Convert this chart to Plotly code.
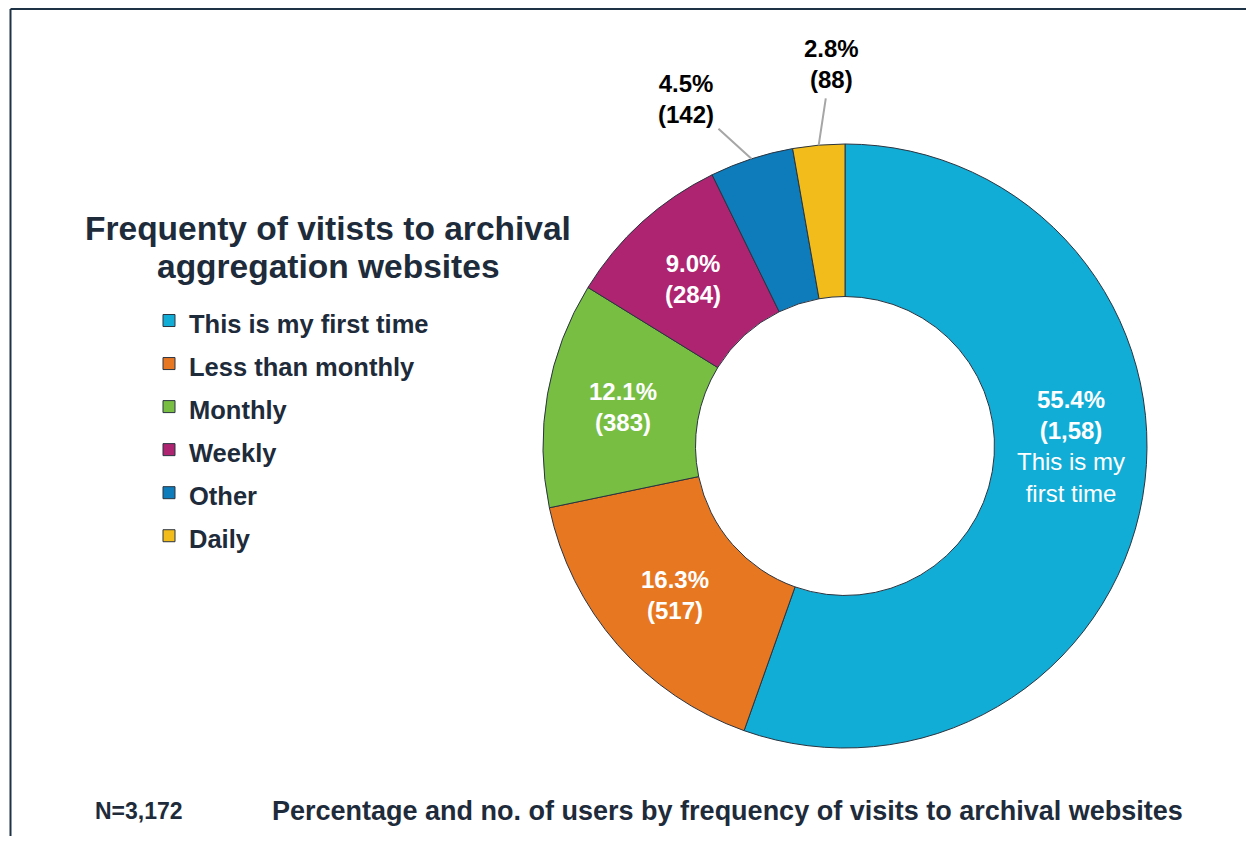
import math
import plotly.graph_objects as go

# ---------------- data ----------------
categories = ["This is my first time", "Less than monthly", "Monthly", "Weekly", "Other", "Daily"]
counts = [1758, 517, 383, 284, 142, 88]
percent_labels = ["55.4%", "16.3%", "12.1%", "9.0%", "4.5%", "2.8%"]
count_labels = ["(1,58)", "(517)", "(383)", "(284)", "(142)", "(88)"]
colors = ["#12ADD6", "#E87722", "#78BE43", "#AE2471", "#0E7BBA", "#F2BD1B"]

title_lines = ["Frequenty of vitists to archival", "aggregation websites"]
n_text = "N=3,172"
caption_text = "Percentage and no. of users by frequency of visits to archival websites"

# ---------------- layout helpers ----------------
OFF = 8            # default body margin of the page
W, H = 1238, 828   # figure size
NAVY = "#1E2B3A"
FONT = "Liberation Sans, Arial, sans-serif"

def px(x):
    return (x - OFF) / W

def py(y):
    return 1 - (y - OFF) / H

CX, CY, R = 845, 446, 302
HOLE = 0.495
domain_x = [px(CX - R), px(CX + R)]
domain_y = [py(CY + R), py(CY - R)]

fig = go.Figure(go.Pie(
    labels=[f'<span style="font-size:25.5px">{c}</span>' for c in categories],
    values=counts,
    sort=False,
    direction="clockwise",
    rotation=0,
    hole=HOLE,
    marker=dict(colors=colors, line=dict(color="#2A3440", width=1)),
    textinfo="none",
    hovertext=categories,
    hoverinfo="text+value+percent",
    domain=dict(x=domain_x, y=domain_y),
))

# ---- slice labels, positioned from the data angles ----
total = sum(counts)
cum = 0
annotations = []
mid_r = R * (1 + HOLE) / 2
for i, v in enumerate(counts):
    mid = (cum + v / 2) / total * 360
    cum += v
    if i == 0:
        mid = 90  # label of the large slice sits on the horizontal
    a = math.radians(mid)
    if i < 4:
        lx = CX + mid_r * math.sin(a)
        ly = CY - mid_r * math.cos(a)
        txt = f"<b>{percent_labels[i]}<br>{count_labels[i]}</b>"
        if i == 0:
            txt += "<br>This is my<br>first time"
        annotations.append(dict(
            x=px(lx), y=py(ly), xref="paper", yref="paper",
            xanchor="center", yanchor="middle",
            text=txt, showarrow=False, align="center",
            font=dict(family=FONT, size=24, color="white"),
        ))
    else:
        tx = CX + R * math.sin(a)
        ty = CY - R * math.cos(a)
        label_pos = {4: (686, 99), 5: (831, 64)}[i]
        annotations.append(dict(
            x=px(tx), y=py(ty), xref="paper", yref="paper",
            text=f"<b>{percent_labels[i]}<br>{count_labels[i]}</b>",
            showarrow=True, arrowhead=0, arrowwidth=2, arrowcolor="#A6A6A6",
            ax=label_pos[0] - tx, ay=label_pos[1] - ty,
            startstandoff=4, standoff=0,
            align="center",
            font=dict(family=FONT, size=24, color="black"),
        ))

# title of the legend block (two lines)
for line, yc in zip(title_lines, [228, 266]):
    annotations.append(dict(
        x=px(328), y=py(yc), xref="paper", yref="paper",
        text=f"<b>{line}</b>", showarrow=False, align="center",
        xanchor="center", yanchor="middle",
        font=dict(family=FONT, size=33.5, color=NAVY),
    ))
# footer
annotations.append(dict(
    x=px(93), y=py(811), xref="paper", yref="paper",
    text=f"<b>{n_text}</b>", showarrow=False, xanchor="left", yanchor="middle",
    font=dict(family=FONT, size=23, color=NAVY),
))
annotations.append(dict(
    x=px(270), y=py(811), xref="paper", yref="paper",
    text=f"<b>{caption_text}</b>", showarrow=False, xanchor="left", yanchor="middle",
    font=dict(family=FONT, size=27, color=NAVY),
))

fig.update_layout(
    width=W, height=H,
    margin=dict(l=0, r=0, t=0, b=0),
    paper_bgcolor="white", plot_bgcolor="white",
    showlegend=True,
    legend=dict(
        x=px(149), y=py(294), xanchor="left", yanchor="top",
        font=dict(family=FONT, size=30.8, color=NAVY, weight="bold"),
        bgcolor="rgba(0,0,0,0)", borderwidth=0,
        traceorder="normal",
    ),
    annotations=annotations,
    shapes=[
        dict(type="line", xref="paper", yref="paper",
             x0=px(10.5), x1=1, y0=py(9), y1=py(9),
             line=dict(color="#1F3346", width=2)),
        dict(type="line", xref="paper", yref="paper",
             x0=px(10.5), x1=px(10.5), y0=py(9), y1=0,
             line=dict(color="#1F3346", width=2)),
    ],
)

fig.write_html("out.html")
